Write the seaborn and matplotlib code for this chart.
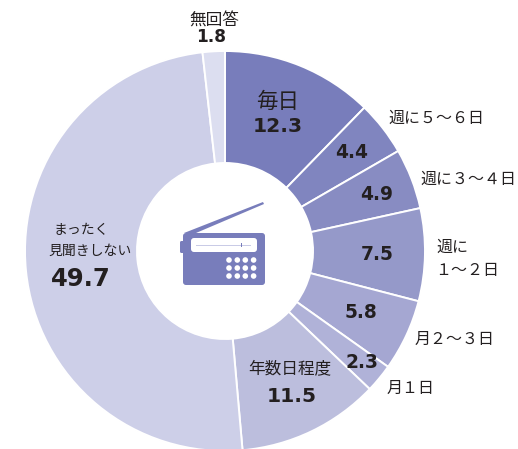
import matplotlib
matplotlib.use("Agg")
import seaborn as sns
import matplotlib.pyplot as plt
from matplotlib.patches import Circle, FancyBboxPatch, Polygon, Rectangle

sns.set_theme(style="white")
plt.rcParams['font.family'] = ['Noto Sans CJK JP', 'DejaVu Sans']

# share of respondents, clockwise from the top
categories = ["毎日", "週に5~6日", "週に3~4日", "週に1~2日", "月2~3日", "月1日", "年数日程度", "まったく見聞きしない", "無回答"]
shares = [12.3, 4.4, 4.9, 7.5, 5.8, 2.3, 11.5, 49.7, 1.8]
slice_colors = ["#787dbb", "#8085bf", "#888cc2", "#9599c9", "#a5a7d2", "#b0b2d8", "#bcbedd", "#cdcfe8", "#dcdef0"]

ICON = "#787dbb"
TEXT = "#231f20"

fig = plt.figure(figsize=(5.18, 4.49), dpi=100)
ax = fig.add_axes([0, 0, 1, 1])

# y axis is inverted below, so start at -90 to have the slices run clockwise from the top
ax.pie(
    shares,
    colors=slice_colors,
    startangle=-90,
    counterclock=True,
    center=(225, 251),
    radius=200,
    frame=True,
    wedgeprops={"width": 112, "edgecolor": "white", "linewidth": 1.4},
)
ax.set_xlim(0, 518)
ax.set_ylim(449, 0)
ax.set_aspect("equal")
ax.axis("off")


def label(x, y, s, size=11.5, ha="center"):
    ax.text(x, y, s, fontsize=size, color=TEXT, ha=ha, va="center")


def number(x, y, value, size=13.4):
    # wide bold digits, closer to the original than the CJK bold
    ax.text(x, y, f"{value}", fontsize=size, color=TEXT, ha="center", va="center",
            family="DejaVu Sans", fontweight="bold")


label(214, 21, "無回答", 12)
number(211, 37, shares[8], 12.2)
label(278, 102, "毎日", 15.5)
number(278, 127, shares[0], 14.6)
number(352, 153, shares[1])
number(377, 194, shares[2])
number(377, 255, shares[3])
number(361, 313, shares[4])
number(362, 363, shares[5])
label(290, 369, "年数日程度", 12)
number(292, 396, shares[6], 14.6)
label(81, 230, "まったく", 10)
label(90, 251, "見聞きしない", 10)
number(81, 279, shares[7], 17.5)

label(388, 118, "週に５～６日", 11.5, ha="left")
label(420, 179, "週に３～４日", 11.5, ha="left")
label(436, 247, "週に", 11.5, ha="left")
label(435, 271, "１～２日", 11.5, ha="left")
label(415, 339, "月２～３日", 11.5, ha="left")
label(387, 388, "月１日", 11.5, ha="left")

# radio icon
ax.add_patch(FancyBboxPatch((183, 233), 82, 52, boxstyle="round,pad=0,rounding_size=3",
                            fc=ICON, ec="none", zorder=4))
ax.add_patch(FancyBboxPatch((180, 241), 6, 12, boxstyle="round,pad=0,rounding_size=1.5",
                            fc=ICON, ec="none", zorder=4))
ax.add_patch(Polygon([[184, 233], [196, 233], [264, 204], [263, 202]], fc=ICON, ec="none", zorder=4))
ax.add_patch(FancyBboxPatch((191, 238), 66, 14, boxstyle="round,pad=0,rounding_size=3",
                            fc="white", ec="none", zorder=5))
ax.add_patch(Rectangle((196, 245), 55, 0.5, fc="#c9cbe6", ec="none", zorder=6))
ax.add_patch(Rectangle((241, 243), 0.6, 4, fc=ICON, ec="none", zorder=6))
for cx in [229, 237.3, 245.3, 253.6]:
    for cy in [260, 268, 276]:
        ax.add_patch(Circle((cx, cy), 2.8, fc="white", ec="none", zorder=5))

fig.savefig("out.png", dpi=100)
